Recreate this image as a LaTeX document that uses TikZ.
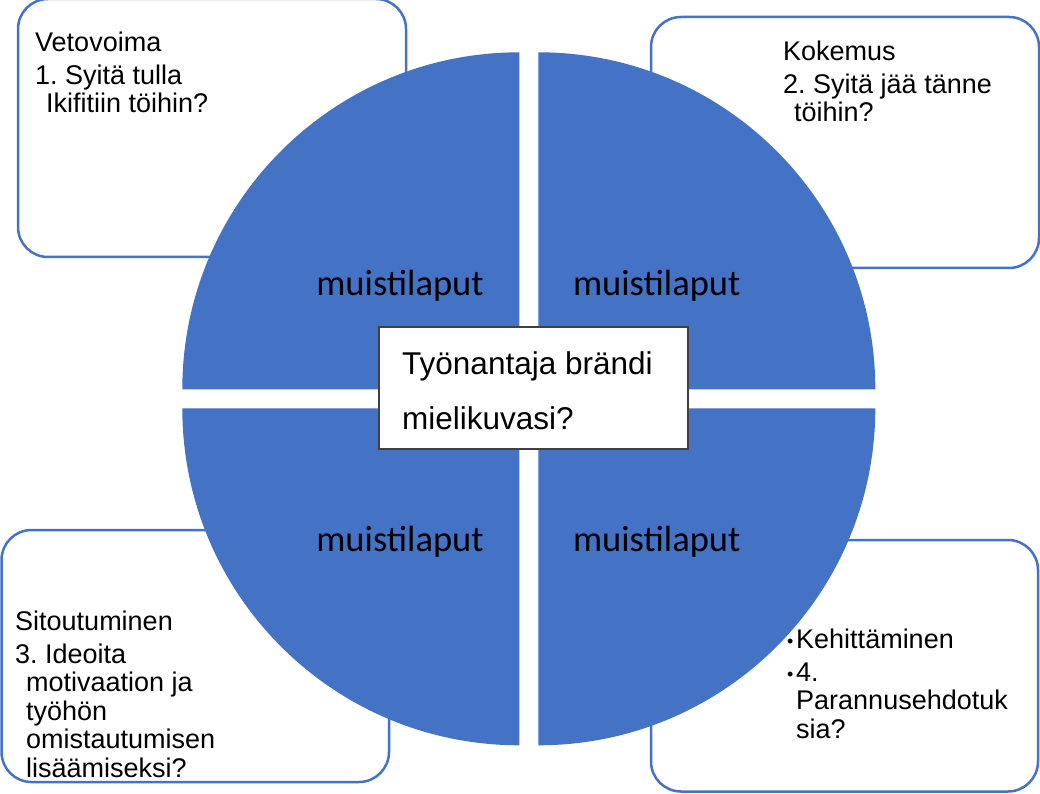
\documentclass[tikz,border=0pt]{standalone}
\usepackage{fontspec}
\setmainfont{Liberation Sans}
\newfontfamily\notefont{Carlito}
\usepackage{xcolor}
\definecolor{blu}{HTML}{4472C4}
\definecolor{rim}{HTML}{404040}
\frenchspacing
\tikzset{
  notebox/.style={draw=blu,line width=2.5pt,rounded corners=30pt},
  quarter/.style={fill=blu},
  notetext/.style={inner sep=0pt,anchor=base west,align=left,
    font=\fontsize{27}{28.5}\selectfont},
  lappu/.style={inner sep=0pt,anchor=base,font=\notefont\fontsize{36.5}{38}\selectfont},
  keskus/.style={draw=rim,line width=1.2pt,fill=white}
}
\newcommand{\hang}{\hspace*{11pt}}
\newcommand{\pallo}{\makebox[9pt][l]{\raisebox{1pt}{\fontsize{18}{18}\selectfont\textbullet}}}
\begin{document}
\begin{tikzpicture}[x=1pt,y=1pt]
    \clip (0,0) rectangle (1040,793);
    % kulmalaatikot
    \draw[notebox] (18,536) rectangle (406,794);
    \draw[notebox] (651,525) rectangle (1039,776);
    \draw[notebox] (1.5,11) rectangle (389,263);
    \draw[notebox] (651,1.5) rectangle (1038,253);
    % ympyran neljannekset
    \fill[quarter] (519.3,403.7) -- ++(-337,0) arc[start angle=180,end angle=90,radius=337] -- cycle;
    \fill[quarter] (538.3,403.7) -- ++(0,337) arc[start angle=90,end angle=0,radius=337] -- cycle;
    \fill[quarter] (519.3,384.7) -- ++(0,-337) arc[start angle=270,end angle=180,radius=337] -- cycle;
    \fill[quarter] (538.3,384.7) -- ++(337,0) arc[start angle=0,end angle=-90,radius=337] -- cycle;
    % tekstit (ankkuri = viimeisen rivin perusviiva)
    \node[notetext] (veto) at (35,680) {Vetovoima\\[4pt]1. Syitä tulla\\\hang Ikifitiin töihin?};
    \node[notetext] (koke) at (783,671) {Kokemus\\[4pt]2. Syitä jää tänne\\\hang töihin?};
    \node[notetext] (sito) at (15,16) {Sitoutuminen\\[4pt]3. Ideoita\\\hang motivaation ja\\\hang työhön\\\hang omistautumisen\\\hang lisäämiseksi?};
    \node[notetext] (kehi) at (787,55) {\pallo Kehittäminen\\[4pt]\pallo 4.\\\hspace*{9pt}Parannusehdotuk\\\hspace*{9pt}sia?};
    \node[lappu] (lapTL) at (400,497) {muistilaput};
    \node[lappu] (lapTR) at (656.7,497) {muistilaput};
    \node[lappu] (lapBL) at (400,242) {muistilaput};
    \node[lappu] (lapBR) at (656.7,242) {muistilaput};
    % keskilaatikko
    \draw[keskus] (379,344) rectangle (688,466);
    \node[notetext,font=\fontsize{31.5}{55}\selectfont] (brandi) at (402,363) {Työnantaja brändi\\mielikuvasi?};
\end{tikzpicture}
\end{document}
